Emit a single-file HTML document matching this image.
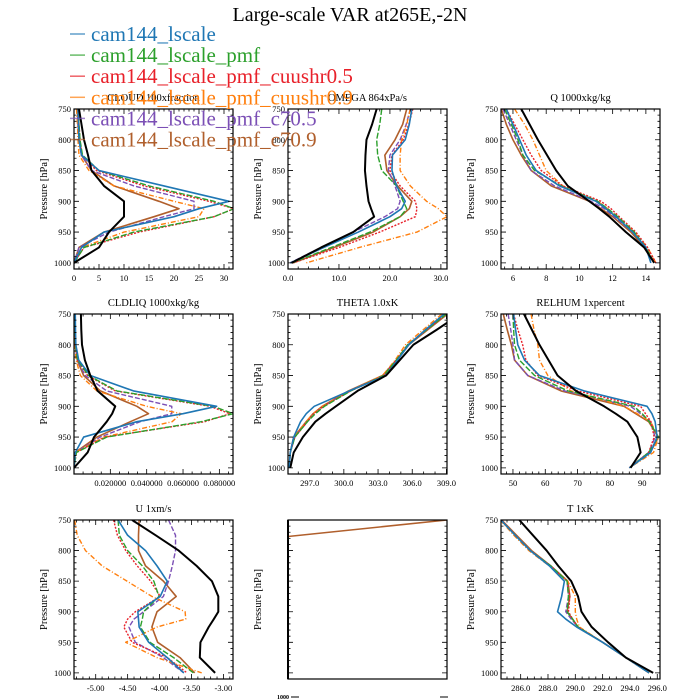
<!DOCTYPE html>
<html><head><meta charset="utf-8">
<style>
html,body{margin:0;padding:0;background:#fff;}
#wrap{position:relative;width:700px;height:700px;overflow:hidden;}
svg text{font-family:"Liberation Serif",serif;}
</style></head>
<body>
<div id="wrap">
<svg id="chartsvg" width="700" height="700" viewBox="0 0 700 700" xmlns="http://www.w3.org/2000/svg">
<text x="350" y="21" text-anchor="middle" font-size="20">Large-scale VAR at265E,-2N</text>
</svg>
</div>
<script>
var LEVELS = [750,775,800,825,850,875,900,912,925,950,975,1000];
var SERIES_NAMES = ["obs","lscale","lscale-pmf","lscale-pmf-cuushr05","lscale-pmf-cuushr09","lscale-pmf-c705","lscale-pmf-c709"];

var CLOUD_obs = [1,1.5,2,2.8,3.5,6,10,10,10,7,5,0];
var CLOUD_lscale = [0.8,0.9,1,1.5,5,18,31,25,20,6,1.5,0];
var CLOUD_pmf = [0.8,1,1.2,1.7,5,15,28,32,28,12,2,0];
var CLOUD_cu05 = [0.8,1,1.2,1.6,4.5,14,27,32,28,13,2,0];
var CLOUD_cu09 = [0.5,0.7,0.8,1,3,8,20,26,25,10,1.5,0];
var CLOUD_c705 = [0.7,0.8,1,1.5,3.5,12,24,24,18,7,1,0];
var CLOUD_c709 = [0.7,0.8,1,1.5,3.5,8,17,21,16,6,1,0];

var OMEGA_obs = [17.4,16.5,15.4,15.2,15.1,15.4,15.8,16.3,16.9,12.8,6.5,0.7];
var OMEGA_lscale = [24.3,23.8,23,20.5,20.4,21.3,23,22.3,20,13.8,7,0.5];
var OMEGA_pmf = [18.4,18,17.4,17.6,18.4,21.3,22.6,23.3,22,16.1,8.5,0.8];
var OMEGA_cu05 = [24.5,23.7,22.6,20.4,20,22,25,25.3,25,18,10,1];
var OMEGA_cu09 = [24,23.3,22.3,22,22,24,27.2,29.5,31.2,25.3,14,3.6];
var OMEGA_c705 = [24,23.2,22,20,19.7,21,22,21.5,19,12.8,6.5,0.4];
var OMEGA_c709 = [23.3,22.5,21,19,19.4,21.5,24.3,23.8,22,16.7,9,1];

var Q_obs = [6.5,7,7.5,8.05,8.6,9.3,10.6,11.2,11.8,12.8,13.9,14.5];
var Q_lscale = [5.6,6,6.4,6.8,7.4,8.8,11,11.6,12.2,13.2,14,14.3];
var Q_pmf = [5.5,5.9,6.3,6.6,7.3,8.9,11.1,11.7,12.3,13.3,14,14.5];
var Q_cu05 = [5.6,6.1,6.6,7.1,7.7,9,11.3,11.9,12.4,13.4,14.1,14.6];
var Q_cu09 = [6.1,6.7,7.2,7.6,8,9,11.1,11.7,12.3,13.3,14.1,14.6];
var Q_c705 = [5.4,5.8,6.2,6.6,7.1,8.5,10.7,11.5,12.1,13.2,14,14.5];
var Q_c709 = [5.3,5.6,6,6.5,7.1,8.3,10.6,11.3,12,13.1,13.9,14.5];

var CLDLIQ_obs = [0.0038,0.004,0.0044,0.006,0.009,0.013,0.0227,0.021,0.018,0.011,0.0075,0];
var CLDLIQ_lscale = [0.0007,0.0008,0.001,0.0026,0.009,0.0327,0.0785,0.06,0.0346,0.0053,0.0007,0];
var CLDLIQ_pmf = [0.0005,0.0006,0.0008,0.002,0.008,0.0236,0.0766,0.0876,0.07,0.018,0.0013,0];
var CLDLIQ_cu05 = [0.0005,0.0006,0.0008,0.002,0.0075,0.0227,0.0748,0.0858,0.072,0.017,0.0013,0];
var CLDLIQ_cu09 = [0.0003,0.0004,0.0005,0.0012,0.0035,0.0126,0.04,0.059,0.054,0.0164,0.0007,0];
var CLDLIQ_c705 = [0.0005,0.0006,0.0008,0.0018,0.0062,0.018,0.0538,0.0538,0.0364,0.0144,0.0007,0];
var CLDLIQ_c709 = [0.0005,0.0006,0.0008,0.0018,0.0053,0.0145,0.0346,0.041,0.031,0.0126,0.0007,0];

var THETA_obs = [310.2,308.2,306.1,304.9,303.7,301.2,299.3,298.4,297.5,296.4,295.6,295.3];
var THETA_lscale = [308.8,307.2,305.7,304.7,303.7,300.5,297.4,296.7,296.2,295.6,295.3,295.2];
var THETA_pmf = [309.0,307.3,305.6,304.6,303.5,300.6,298.3,297.5,296.8,295.7,295.3,295.2];
var THETA_cu05 = [309.0,307.3,305.6,304.6,303.5,300.6,298.2,297.4,296.8,295.7,295.3,295.2];
var THETA_cu09 = [308.6,307.0,305.4,304.5,303.4,300.5,298.1,297.3,296.7,295.6,295.3,295.2];
var THETA_c705 = [309.0,307.3,305.6,304.6,303.5,300.5,298.2,297.4,296.8,295.7,295.3,295.2];
var THETA_c709 = [309.1,307.4,305.7,304.6,303.4,300.4,298.1,297.3,296.7,295.6,295.3,295.2];

var RELHUM_obs = [53.4,55.8,58.2,61,63.8,69.5,78.2,81.8,85.4,88.5,89.5,86.4];
var RELHUM_lscale = [50.2,50.8,51.5,53.6,58.2,72,91.5,93,94,94.6,92.6,86];
var RELHUM_pmf = [50,50.2,50.5,52,56.7,67,87.4,90,92.2,95,92,86];
var RELHUM_cu05 = [50.2,51.5,53,54,57.7,70,89.5,91,92.7,93.7,92,86];
var RELHUM_cu09 = [55.6,56.5,57.7,58.2,60.8,68,84.4,88.5,92.6,95,93.5,86];
var RELHUM_c705 = [48.5,49.3,50,50.5,54.6,66,86.4,89.5,92.6,94,92,86];
var RELHUM_c709 = [47,48.2,49.5,50.5,54.6,64.9,84.4,88,92,95,92.5,86];

var U_obs = [-4.43,-4.06,-3.70,-3.42,-3.18,-3.08,-3.08,-3.15,-3.23,-3.36,-3.37,-3.13];
var U_lscale = [-4.65,-4.50,-4.22,-4.04,-3.88,-3.99,-4.34,-4.33,-4.32,-4.17,-3.88,-3.62];
var U_pmf = [-4.65,-4.63,-4.50,-4.27,-4.09,-4.01,-4.25,-4.27,-4.30,-4.15,-3.78,-3.47];
var U_cu05 = [-4.72,-4.66,-4.53,-4.35,-4.14,-3.99,-4.38,-4.50,-4.56,-4.43,-3.88,-3.57];
var U_cu09 = [-5.33,-5.29,-5.16,-4.90,-4.51,-4.12,-3.60,-3.59,-4.04,-4.53,-4.04,-3.34];
var U_c705 = [-3.86,-3.75,-3.75,-3.80,-3.86,-3.94,-4.25,-4.40,-4.48,-4.38,-3.94,-3.62];
var U_c709 = [-4.32,-4.33,-4.33,-4.22,-3.94,-3.74,-4.04,-4.08,-4.12,-4.03,-3.68,-3.45];

var T_obs = [285.9,286.9,287.9,288.75,289.7,290.2,290.45,290.8,291.2,292.4,293.7,295.7];
var T_lscale = [284.55,285.6,286.7,288.1,289.2,289.0,288.7,289.3,290.1,292.0,293.7,295.4];
var T_pmf = [284.55,285.6,286.7,288.2,289.4,289.5,289.4,289.8,290.2,292.0,293.7,295.4];
var T_cu05 = [284.6,285.6,286.7,288.2,289.4,289.6,289.5,289.8,290.2,292.0,293.7,295.4];
var T_cu09 = [284.5,285.5,286.6,288.1,289.45,290.0,290.0,290.1,290.3,292.0,293.7,295.4];
var T_c705 = [284.55,285.6,286.7,288.2,289.4,289.5,289.3,289.7,290.2,292.0,293.7,295.4];
var T_c709 = [284.6,285.7,286.8,288.2,289.45,289.6,289.4,289.8,290.2,292.0,293.7,295.4];

var EMPTY_levels = [777,750];
var EMPTY_values = [0,1];

var CLOUD_ticks = [0,5,10,15,20,25,30];
var CLOUD_labels = ["0","5","10","15","20","25","30"];
var OMEGA_ticks = [0,10,20,30];
var OMEGA_labels = ["0.0","10.0","20.0","30.0"];
var Q_ticks = [6,8,10,12,14];
var Q_labels = ["6","8","10","12","14"];
var CLDLIQ_ticks = [0.02,0.04,0.06,0.08];
var CLDLIQ_labels = ["0.020000","0.040000","0.060000","0.080000"];
var THETA_ticks = [297,300,303,306,309];
var THETA_labels = ["297.0","300.0","303.0","306.0","309.0"];
var RELHUM_ticks = [50,60,70,80,90];
var RELHUM_labels = ["50","60","70","80","90"];
var U_ticks = [-5,-4.5,-4,-3.5,-3];
var U_labels = ["-5.00","-4.50","-4.00","-3.50","-3.00"];
var T_ticks = [286,288,290,292,294,296];
var T_labels = ["286.0","288.0","290.0","292.0","294.0","296.0"];
var P_ticks = [750,800,850,900,950,1000];
var P_labels = ["750","800","850","900","950","1000"];

var COLORS = ["#000000","#1f77b4","#2ca02c","#e8212a","#ff7f0e","#7b4fb5","#b05f2c"];
var DASHES = ["none","none","6,2","2,1.5","5,2,1,2","5,2","none"];
var WIDTHS = [2,1.6,1.4,1.4,1.4,1.4,1.6];

var SVGNS = "http://www.w3.org/2000/svg";
var rootSvg = document.getElementById("chartsvg");
function mk(tag, attrs, parent){
  var e = document.createElementNS(SVGNS, tag);
  for (var k in attrs) { e.setAttribute(k, String(attrs[k])); }
  (parent || rootSvg).appendChild(e);
  return e;
}

var COLS = [[74,233],[288,447],[501,660]];
var ROWS = [[109,269],[314,474],[520,679]];

function drawPanel(id,col,row,title,xmin,xmax,ticks,labels,minorStep,series,showY){
  var x0 = COLS[col][0], x1 = COLS[col][1];
  var y0 = ROWS[row][0], y1 = ROWS[row][1];
  function xs(v){ return x0 + (v - xmin) / (xmax - xmin) * (x1 - x0); }
  function ys(p){ return y0 + (p - 750) / 260 * (y1 - y0); }
  var g = mk("g", {});
  
  
  var clip = mk("clipPath", {id: "clip-" + id}, g);
  mk("rect", {x: x0, y: y0, width: x1 - x0, height: y1 - y0}, clip);
  var sg = mk("g", {"clip-path": "url(#clip-" + id + ")"}, g);
  for (var s = series.length - 1; s >= 0; s--) {
    var item = series[s];
    var isArr = Array.isArray(item);
    var lv = isArr ? LEVELS : item.lv;
    var data = isArr ? item : item.vals;
    var pts = [];
    for (var i = 0; i < data.length; i++) { pts.push(xs(data[i]).toFixed(2) + "," + ys(lv[i]).toFixed(2)); }
    var pl = mk("polyline", {points: pts.join(" "), fill: "none",
      stroke: isArr ? COLORS[s] : item.color, "stroke-width": isArr ? WIDTHS[s] : item.width,
      "stroke-dasharray": isArr ? DASHES[s] : "none", "stroke-linejoin": "round"}, sg);
    
    
  }
  var fr = mk("rect", {x: x0, y: y0, width: x1 - x0, height: y1 - y0, fill: "none", stroke: "#000", "stroke-width": 1.2}, g);
  
  
  var tp = "";
  for (var p = 750; p <= 1010; p += 10) {
    var y = ys(p); var L = (p % 50 === 0) ? 5 : 2.5;
    tp += "M" + x0 + "," + y + "h" + L + "M" + x1 + "," + y + "h" + (-L);
  }
  if (ticks) {
    var start = Math.ceil(xmin / minorStep) * minorStep;
    for (var v = start; v <= xmax + 1e-9; v += minorStep) {
      var x = xs(v); tp += "M" + x + "," + y1 + "v-2.5M" + x + "," + y0 + "v2.5";
    }
    for (var j = 0; j < ticks.length; j++) {
      var xx = xs(ticks[j]); tp += "M" + xx + "," + y1 + "v-5M" + xx + "," + y0 + "v5";
    }
  }
  mk("path", {d: tp, stroke: "#000", "stroke-width": 0.8, fill: "none"}, g);
  if (showY) {
    var yl = mk("g", {"font-size": 8.5, "text-anchor": "end"}, g);
    
    
    for (var a = 0; a < P_ticks.length; a++) {
      var t1 = mk("text", {x: x0 - 3, y: ys(P_ticks[a]) + 3}, yl);
      t1.textContent = P_labels[a];
    }
  }
  if (ticks) {
    var xl = mk("g", {"font-size": 8.5, "text-anchor": "middle"}, g);
    
    
    for (var b = 0; b < ticks.length; b++) {
      var t2 = mk("text", {x: xs(ticks[b]), y: y1 + 12}, xl);
      t2.textContent = labels[b];
    }
  }
  var yt = mk("text", {x: 0, y: 0, "font-size": 10.5, "text-anchor": "middle",
    transform: "translate(" + (x0 - 27) + "," + ((y0 + y1) / 2) + ") rotate(-90)"}, g);
  yt.textContent = "Pressure [hPa]";
  
  
  if (title) {
    var tt = mk("text", {x: (x0 + x1) / 2, y: y0 - 8, "font-size": 10.5, "text-anchor": "middle"}, g);
    tt.textContent = title;
    
    
  }
}

drawPanel("cloud",0,0,"CLOUD  100xfraction",0,31.8,CLOUD_ticks,CLOUD_labels,1,[CLOUD_obs,CLOUD_lscale,CLOUD_pmf,CLOUD_cu05,CLOUD_cu09,CLOUD_c705,CLOUD_c709],true);
drawPanel("omega",1,0,"OMEGA  864xPa/s",0,31.2,OMEGA_ticks,OMEGA_labels,2,[OMEGA_obs,OMEGA_lscale,OMEGA_pmf,OMEGA_cu05,OMEGA_cu09,OMEGA_c705,OMEGA_c709],true);
drawPanel("q",2,0,"Q  1000xkg/kg",5.28,14.85,Q_ticks,Q_labels,0.5,[Q_obs,Q_lscale,Q_pmf,Q_cu05,Q_cu09,Q_c705,Q_c709],true);
drawPanel("cldliq",0,1,"CLDLIQ  1000xkg/kg",0,0.0875,CLDLIQ_ticks,CLDLIQ_labels,0.005,[CLDLIQ_obs,CLDLIQ_lscale,CLDLIQ_pmf,CLDLIQ_cu05,CLDLIQ_cu09,CLDLIQ_c705,CLDLIQ_c709],true);
drawPanel("theta",1,1,"THETA  1.0xK",295.1,309.05,THETA_ticks,THETA_labels,1,[THETA_obs,THETA_lscale,THETA_pmf,THETA_cu05,THETA_cu09,THETA_c705,THETA_c709],true);
drawPanel("relhum",2,1,"RELHUM  1xpercent",46.3,95.5,RELHUM_ticks,RELHUM_labels,2,[RELHUM_obs,RELHUM_lscale,RELHUM_pmf,RELHUM_cu05,RELHUM_cu09,RELHUM_c705,RELHUM_c709],true);
drawPanel("u",0,2,"U  1xm/s",-5.34,-2.85,U_ticks,U_labels,0.1,[U_obs,U_lscale,U_pmf,U_cu05,U_cu09,U_c705,U_c709],true);
drawPanel("empty",1,2,"",0,1,null,null,1,[{lv:EMPTY_levels,vals:EMPTY_values,color:"#b05f2c",width:1.6,name:"series"}],false);
drawPanel("t",2,2,"T  1xK",284.56,296.2,T_ticks,T_labels,0.5,[T_obs,T_lscale,T_pmf,T_cu05,T_cu09,T_c705,T_c709],true);

mk("line", {x1: 288, y1: 520, x2: 288, y2: 679, stroke: "#000", "stroke-width": 2});
var stray = mk("text", {x: 283, y: 699, "font-size": 6, "text-anchor": "middle", "font-weight": "bold"});
stray.textContent = "1000";


mk("path", {d: "M291,697h8M440,697h8", stroke: "#000", "stroke-width": 1});

var LEG_NAMES = ["cam144_lscale","cam144_lscale_pmf","cam144_lscale_pmf_cuushr0.5","cam144_lscale_pmf_cuushr0.9","cam144_lscale_pmf_c70.5","cam144_lscale_pmf_c70.9"];
var LEG_COLORS = ["#1f77b4","#2ca02c","#e8212a","#ff7f0e","#7b4fb5","#b05f2c"];
var lg = mk("g", {});


for (var n = 0; n < LEG_NAMES.length; n++) {
  var ly = 34 + n * 21.1;
  var e = mk("g", {}, lg);
  
  
  mk("line", {x1: 70, y1: ly, x2: 85, y2: ly, stroke: LEG_COLORS[n], "stroke-width": 1.5, opacity: 0.7}, e);
  var lt = mk("text", {x: 91, y: ly + 7, "font-size": 21, fill: LEG_COLORS[n]}, e);
  lt.textContent = LEG_NAMES[n];
}
</script>
</body></html>
